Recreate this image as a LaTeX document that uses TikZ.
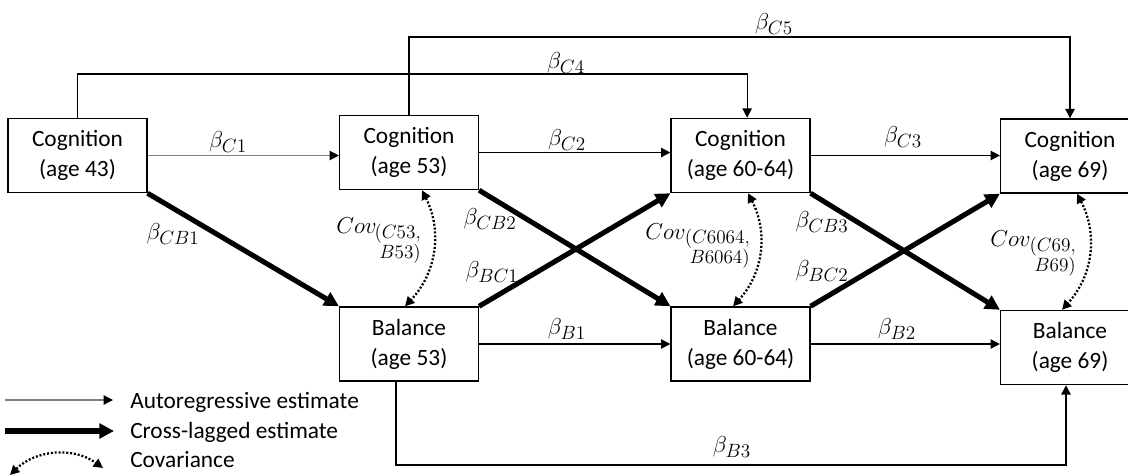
\documentclass[tikz,border=0pt]{standalone}
\usepackage{fontspec}
\setmainfont{Carlito}
\usetikzlibrary{arrows.meta}
\begin{document}
\begin{tikzpicture}[x=0.75pt,y=-0.75pt,
  every node/.style={inner sep=0pt},
  txt/.style={font=\fontsize{17.5}{22.5}\selectfont},
  mtxt/.style={font=\fontsize{19}{23}\selectfont},
  varbox/.style={txt, draw, line width=1.1pt, minimum width=104pt, minimum height=55.5pt, align=center},
  coef/.style={mtxt},
  autoreg/.style={line width=1pt, arrows={-Triangle[length=7pt,width=7pt]}},
  autoreggray/.style={line width=1pt, draw=black!50, arrows={-Triangle[length=7pt,width=7pt,color=black]}},
  crosslag/.style={line width=3.8pt, arrows={-Triangle[length=11pt,width=11pt]}},
  covar/.style={line width=1.7pt, dash pattern=on 1.5pt off 1.4pt,
    arrows={Triangle[length=7pt,width=7pt]-Triangle[length=7pt,width=7pt]}},
  legtext/.style={txt, anchor=base west},
  covmain/.style={mtxt, anchor=base west},
  covsub/.style={anchor=base east, font=\fontsize{14}{15.5}\selectfont},
]
\useasboundingbox (0,0) rectangle (1128,475);
\clip (0,0) rectangle (1128,475);

% variables
\node[varbox] (C43)   at (77.5,155.5) {Cognition\\(age 43)};
\node[varbox] (C53)   at (409,152.5)  {Cognition\\(age 53)};
\node[varbox] (C6064) at (740.5,155.5) {Cognition\\(age 60-64)};
\node[varbox] (C69)   at (1070,156)   {Cognition\\(age 69)};
\node[varbox] (B53)   at (409,344)    {Balance\\(age 53)};
\node[varbox] (B6064) at (740.5,344)  {Balance\\(age 60-64)};
\node[varbox] (B69)   at (1070,347.5) {Balance\\(age 69)};

% autoregressive paths
\draw[autoreggray] (C43.east) -- (C43.east -| C53.west);
\draw[autoreg] (C53.east) -- (C53.east -| C6064.west);
\draw[autoreg] (C6064.east) -- (C6064.east -| C69.west);
\draw[autoreg] (B53.east) -- (B53.east -| B6064.west);
\draw[autoreg] (B6064.east) -- (B6064.east -| B69.west);

% longer-lag paths
\draw[autoreg] (C43.north) -- (C43.north |- 0,74) -| ([xshift=5pt]C6064.north);
\draw[autoreg] (C53.north) -- (C53.north |- 0,37) -| (C69.north);
\draw[autoreg] ([xshift=-9.75pt]B53.south) -- ([xshift=-9.75pt]B53.south |- 0,465) -| ([xshift=-3pt]B69.south);

% cross-lagged paths
\draw[crosslag] (C43.south east) -- (B53.north west);
\draw[crosslag] (C53.south east) -- (B6064.north west);
\draw[crosslag] (B53.north east) -- (C6064.south west);
\draw[crosslag] (C6064.south east) -- (B69.north west);
\draw[crosslag] (B6064.north east) -- (C69.south west);

% covariances
\draw[covar] ([xshift=9.75pt]C53.south) to[bend left=35] ([xshift=-3pt]B53.north);
\draw[covar] ([xshift=5.6pt]C6064.south) to[bend left=35] ([xshift=-5.6pt]B6064.north);
\draw[covar] ([xshift=5.25pt]C69.south) to[bend left=35] ([xshift=-6pt]B69.north);

% coefficient labels
\node[coef] (lC1)  at (228,142) {$\beta_{C1}$};
\node[coef] (lC2)  at (567,140) {$\beta_{C2}$};
\node[coef] (lC3)  at (903,137) {$\beta_{C3}$};
\node[coef] (lC4)  at (566,63)  {$\beta_{C4}$};
\node[coef] (lC5)  at (774,24)  {$\beta_{C5}$};
\node[coef] (lCB1) at (173,234) {$\beta_{CB1}$};
\node[coef] (lCB2) at (490,219) {$\beta_{CB2}$};
\node[coef] (lBC1) at (492,272) {$\beta_{BC1}$};
\node[coef] (lCB3) at (822,222) {$\beta_{CB3}$};
\node[coef] (lBC2) at (822,271) {$\beta_{BC2}$};
\node[coef] (lB1)  at (567,329) {$\beta_{B1}$};
\node[coef] (lB2)  at (897,329) {$\beta_{B2}$};
\node[coef] (lB3)  at (732,447) {$\beta_{B3}$};

\node[covmain] (cv1) at (336,233) {$Cov$};
\node[covsub] (cv1s) at (421,238) {\begin{tabular}[t]{@{}r@{}}$(C53,$\\$B53)$\end{tabular}};
\node[covmain] (cv2) at (645,239) {$Cov$};
\node[covsub] (cv2s) at (750,243) {\begin{tabular}[t]{@{}r@{}}$(C6064,$\\$B6064)$\end{tabular}};
\node[covmain] (cv3) at (990,246) {$Cov$};
\node[covsub] (cv3s) at (1076,251) {\begin{tabular}[t]{@{}r@{}}$(C69,$\\$B69)$\end{tabular}};

% legend
\coordinate (lg1s) at (5,400);
\coordinate (lg1e) at (113,400);
\coordinate (lg2s) at (5,431);
\coordinate (lg2e) at (114,431);
\coordinate (lg3s) at (10,475);
\coordinate (lg3e) at (103,468);
\draw[autoreggray] (lg1s) -- (lg1e);
\draw[crosslag] (lg2s) -- (lg2e);
\draw[covar] (lg3s) to[bend left=40] (lg3e);
\node[legtext] (lt1) at (130,408) {Autoregressive estimate};
\node[legtext] (lt2) at (130,438) {Cross-lagged estimate};
\node[legtext] (lt3) at (130,467) {Covariance};
\end{tikzpicture}
\end{document}
